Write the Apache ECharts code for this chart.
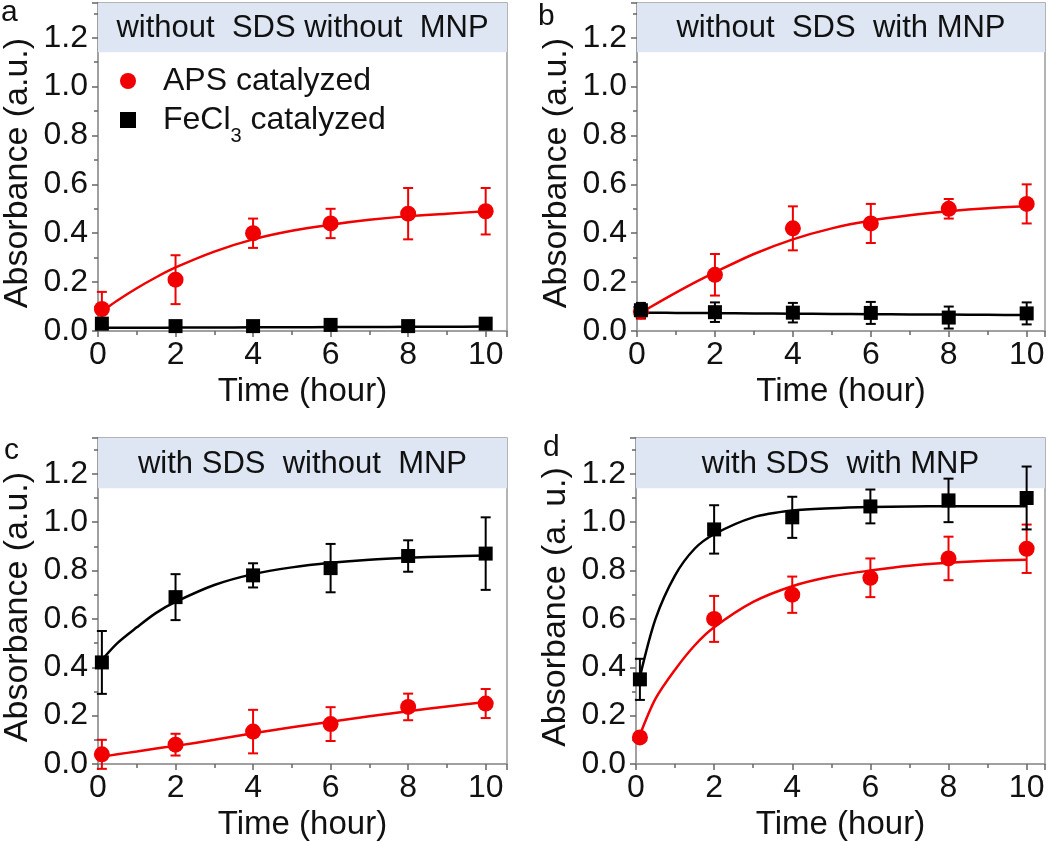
<!DOCTYPE html>
<html>
<head>
<meta charset="utf-8">
<script src="https://cdn.jsdelivr.net/npm/echarts@6/dist/echarts.min.js"></script>
<style>
  html, body { margin: 0; padding: 0; background: #fff; }
  #chart { width: 1050px; height: 842px; }
</style>
</head>
<body>
<div id="chart"></div>
<script>
// measured times and tick labels
const times = [0.1, 2, 4, 6, 8, 10];
const fitTimes = [0.1, 0.5, 1, 1.5, 2, 3, 4, 5, 6, 7, 8, 9, 10];
const xTickLabels = ['0', '2', '4', '6', '8', '10'];
const yTickLabels = ['0.0', '0.2', '0.4', '0.6', '0.8', '1.0', '1.2'];

const panelLetters = ['a', 'b', 'c', 'd'];
const panelTitles = ['without  SDS without  MNP', 'without  SDS  with MNP', 'with SDS  without  MNP', 'with SDS  with MNP'];
const yTitles = ['Absorbance (a.u.)', 'Absorbance (a.u.)', 'Absorbance (a.u.)', 'Absorbance (a. u.)'];

// APS catalyzed (red circles), mean and error
const apsA = [0.09, 0.21, 0.40, 0.44, 0.48, 0.49];
const apsAErr = [0.07, 0.10, 0.06, 0.06, 0.105, 0.095];
const apsB = [0.08, 0.23, 0.42, 0.44, 0.50, 0.52];
const apsBErr = [0.03, 0.085, 0.09, 0.08, 0.04, 0.08];
const apsC = [0.04, 0.08, 0.134, 0.165, 0.236, 0.25];
const apsCErr = [0.06, 0.045, 0.09, 0.07, 0.055, 0.06];
const apsD = [0.11, 0.60, 0.70, 0.77, 0.85, 0.89];
const apsDErr = [0.02, 0.095, 0.075, 0.08, 0.09, 0.10];

// FeCl3 catalyzed (black squares), mean and error
const fecA = [0.03, 0.02, 0.02, 0.025, 0.02, 0.03];
const fecAErr = [0.015, 0.01, 0.01, 0.012, 0.01, 0.02];
const fecB = [0.085, 0.077, 0.075, 0.074, 0.055, 0.072];
const fecBErr = [0.03, 0.04, 0.04, 0.045, 0.045, 0.045];
const fecC = [0.42, 0.69, 0.78, 0.81, 0.86, 0.87];
const fecCErr = [0.13, 0.095, 0.05, 0.10, 0.065, 0.15];
const fecD = [0.35, 0.97, 1.02, 1.065, 1.09, 1.10];
const fecDErr = [0.085, 0.10, 0.085, 0.07, 0.09, 0.13];

// fitted curves at fitTimes
const apsAFit = [0.08, 0.125, 0.175, 0.22, 0.26, 0.325, 0.375, 0.41, 0.435, 0.455, 0.47, 0.48, 0.49];
const apsBFit = [0.075, 0.112, 0.157, 0.20, 0.24, 0.315, 0.375, 0.42, 0.452, 0.474, 0.49, 0.502, 0.51];
const apsCFit = [0.03, 0.04, 0.052, 0.064, 0.075, 0.10, 0.127, 0.152, 0.175, 0.197, 0.218, 0.238, 0.256];
const apsDFit = [0.12, 0.27, 0.39, 0.49, 0.565, 0.67, 0.735, 0.775, 0.80, 0.82, 0.832, 0.84, 0.845];
const fecAFit = [0.013, 0.013, 0.013, 0.013, 0.014, 0.014, 0.015, 0.015, 0.016, 0.016, 0.017, 0.017, 0.018];
const fecBFit = [0.075, 0.075, 0.074, 0.074, 0.073, 0.072, 0.071, 0.07, 0.069, 0.068, 0.067, 0.066, 0.065];
const fecCFit = [0.43, 0.50, 0.565, 0.625, 0.67, 0.74, 0.785, 0.813, 0.832, 0.845, 0.853, 0.858, 0.862];
const fecDFit = [0.36, 0.60, 0.78, 0.89, 0.95, 1.02, 1.048, 1.058, 1.063, 1.065, 1.066, 1.066, 1.066];

const headerBottom = 1.14;

const aps = [apsA, apsB, apsC, apsD];
const apsErr = [apsAErr, apsBErr, apsCErr, apsDErr];
const apsFit = [apsAFit, apsBFit, apsCFit, apsDFit];
const fec = [fecA, fecB, fecC, fecD];
const fecErr = [fecAErr, fecBErr, fecCErr, fecDErr];
const fecFit = [fecAFit, fecBFit, fecCFit, fecDFit];

const FONT = '"Liberation Sans", Arial, sans-serif';
const RED = '#f00000';
const BLACK = '#000';
const GRAY = '#9a9a9a';
const TEXT = '#111';

const grids = [
  { left: 97, top: 3, width: 410, height: 328 },
  { left: 637, top: 3, width: 408, height: 328 },
  { left: 97, top: 438, width: 410, height: 330 },
  { left: 636, top: 438, width: 409, height: 330 }
];
const xMax = [10.55, 10.47, 10.55, 10.47];
const yMax = [1.342, 1.342, 1.348, 1.348];
const letterPos = [[1, -2], [538, 2], [4, 436], [543, 433]];

const chart = echarts.init(document.getElementById('chart'), null, { renderer: 'canvas' });

function renderErr(params, api) {
  const x = api.value(0);
  const top = api.coord([x, api.value(2)]);
  const bot = api.coord([x, api.value(1)]);
  const cap = 5;
  const style = { stroke: api.visual('color'), lineWidth: 2 };
  return {
    type: 'group',
    children: [
      { type: 'line', shape: { x1: top[0], y1: top[1], x2: bot[0], y2: bot[1] }, style: style },
      { type: 'line', shape: { x1: top[0] - cap, y1: top[1], x2: top[0] + cap, y2: top[1] }, style: style },
      { type: 'line', shape: { x1: bot[0] - cap, y1: bot[1], x2: bot[0] + cap, y2: bot[1] }, style: style }
    ]
  };
}

function pairs(xs, ys) { return xs.map((x, i) => [x, ys[i]]); }
function bars(ys, es) { return times.map((t, i) => [t, ys[i] - es[i], ys[i] + es[i]]); }
function onStep(v, step, labels) {
  const k = Math.round(v / step);
  return Math.abs(v / step - k) < 1e-6 ? (labels[k] || '') : '';
}

const xAxes = [], yAxes = [], series = [], titles = [];
grids.forEach((g, i) => {
  xAxes.push({
    type: 'value', gridIndex: i, min: 0, max: xMax[i], interval: 2,
    name: 'Time (hour)', nameLocation: 'middle', nameGap: 44,
    nameTextStyle: { fontFamily: FONT, fontSize: 33, color: TEXT },
    axisLine: { lineStyle: { color: GRAY, width: 1.5 } },
    axisTick: { show: true, length: 6, lineStyle: { color: '#666', width: 1.5 } },
    minorTick: { show: true, splitNumber: 2, length: 4, lineStyle: { color: '#666', width: 1.5 } },
    splitLine: { show: false },
    axisLabel: { fontFamily: FONT, fontSize: 32, color: TEXT, margin: 8, formatter: v => onStep(v, 2, xTickLabels) }
  });
  yAxes.push({
    type: 'value', gridIndex: i, min: 0, max: yMax[i], interval: 0.2,
    name: yTitles[i], nameLocation: 'middle', nameGap: 63,
    nameTextStyle: { fontFamily: FONT, fontSize: 34, color: TEXT, padding: [0, 12, 0, 0] },
    axisLine: { show: true, lineStyle: { color: GRAY, width: 1.5 } },
    axisTick: { show: true, length: 6, lineStyle: { color: '#666', width: 1.5 } },
    minorTick: { show: true, splitNumber: 2, length: 4, lineStyle: { color: '#666', width: 1.5 } },
    splitLine: { show: false },
    axisLabel: { fontFamily: FONT, fontSize: 32, color: TEXT, margin: 10, formatter: v => onStep(v, 0.2, yTickLabels) }
  });
  titles.push({
    text: panelLetters[i], left: letterPos[i][0], top: letterPos[i][1], padding: 0,
    textStyle: { fontFamily: FONT, fontSize: 30, fontWeight: 'normal', color: TEXT }
  });

  // header band + fitted curves
  series.push({
    type: 'line', xAxisIndex: i, yAxisIndex: i, z: 1,
    data: pairs(fitTimes, apsFit[i]), smooth: 0.3, showSymbol: false, silent: true,
    lineStyle: { color: RED, width: 2.5 }, itemStyle: { color: RED },
    markArea: {
      silent: true,
      itemStyle: { color: '#dde6f2' },
      label: { show: true, position: 'inside', fontFamily: FONT, fontSize: 31, color: TEXT, offset: [0, 1] },
      data: [[{ name: panelTitles[i], xAxis: 0, yAxis: headerBottom }, { xAxis: xMax[i], yAxis: yMax[i] }]]
    }
  });
  series.push({
    type: 'line', xAxisIndex: i, yAxisIndex: i, z: 2,
    data: pairs(fitTimes, fecFit[i]), smooth: 0.3, showSymbol: false, silent: true,
    lineStyle: { color: BLACK, width: 2.5 }, itemStyle: { color: BLACK }
  });
  // error bars
  series.push({
    type: 'custom', xAxisIndex: i, yAxisIndex: i, z: 3, renderItem: renderErr,
    itemStyle: { color: RED }, encode: { x: 0, y: [1, 2] }, data: bars(aps[i], apsErr[i])
  });
  series.push({
    type: 'custom', xAxisIndex: i, yAxisIndex: i, z: 3, renderItem: renderErr,
    itemStyle: { color: BLACK }, encode: { x: 0, y: [1, 2] }, data: bars(fec[i], fecErr[i])
  });
  // markers
  series.push({
    name: 'APS catalyzed', type: 'scatter', xAxisIndex: i, yAxisIndex: i, z: 4,
    symbol: 'circle', symbolSize: 16, itemStyle: { color: RED, opacity: 1 },
    data: pairs(times, aps[i])
  });
  series.push({
    name: 'FeCl3 catalyzed', type: 'scatter', xAxisIndex: i, yAxisIndex: i, z: 4,
    symbol: 'rect', symbolSize: 14, itemStyle: { color: BLACK, opacity: 1 },
    data: pairs(times, fec[i])
  });
});

chart.setOption({
  backgroundColor: '#fff',
  animation: false,
  title: titles,
  grid: grids.map(g => Object.assign({ show: true, borderColor: GRAY, borderWidth: 1.5, backgroundColor: 'transparent', containLabel: false }, g)),
  xAxis: xAxes,
  yAxis: yAxes,
  legend: {
    orient: 'vertical', left: 115, top: 60, itemWidth: 16, itemHeight: 16, itemGap: -3,
    selectedMode: false,
    data: [{ name: 'APS catalyzed', icon: 'circle' }, { name: 'FeCl3 catalyzed', icon: 'rect' }],
    formatter: name => (name === 'FeCl3 catalyzed'
      ? '{g| }{n|FeCl}{s|3}{n| catalyzed}'
      : '{g| }{n|' + name + '}'),
    textStyle: {
      fontFamily: FONT, color: TEXT,
      rich: {
        g: { width: 22, fontSize: 32, lineHeight: 32 },
        n: { fontFamily: FONT, fontSize: 32, lineHeight: 32, color: TEXT },
        s: { fontFamily: FONT, fontSize: 20, lineHeight: 20, padding: [32, 0, 0, 0], color: TEXT }
      }
    }
  },
  series: series
});
</script>
</body>
</html>
